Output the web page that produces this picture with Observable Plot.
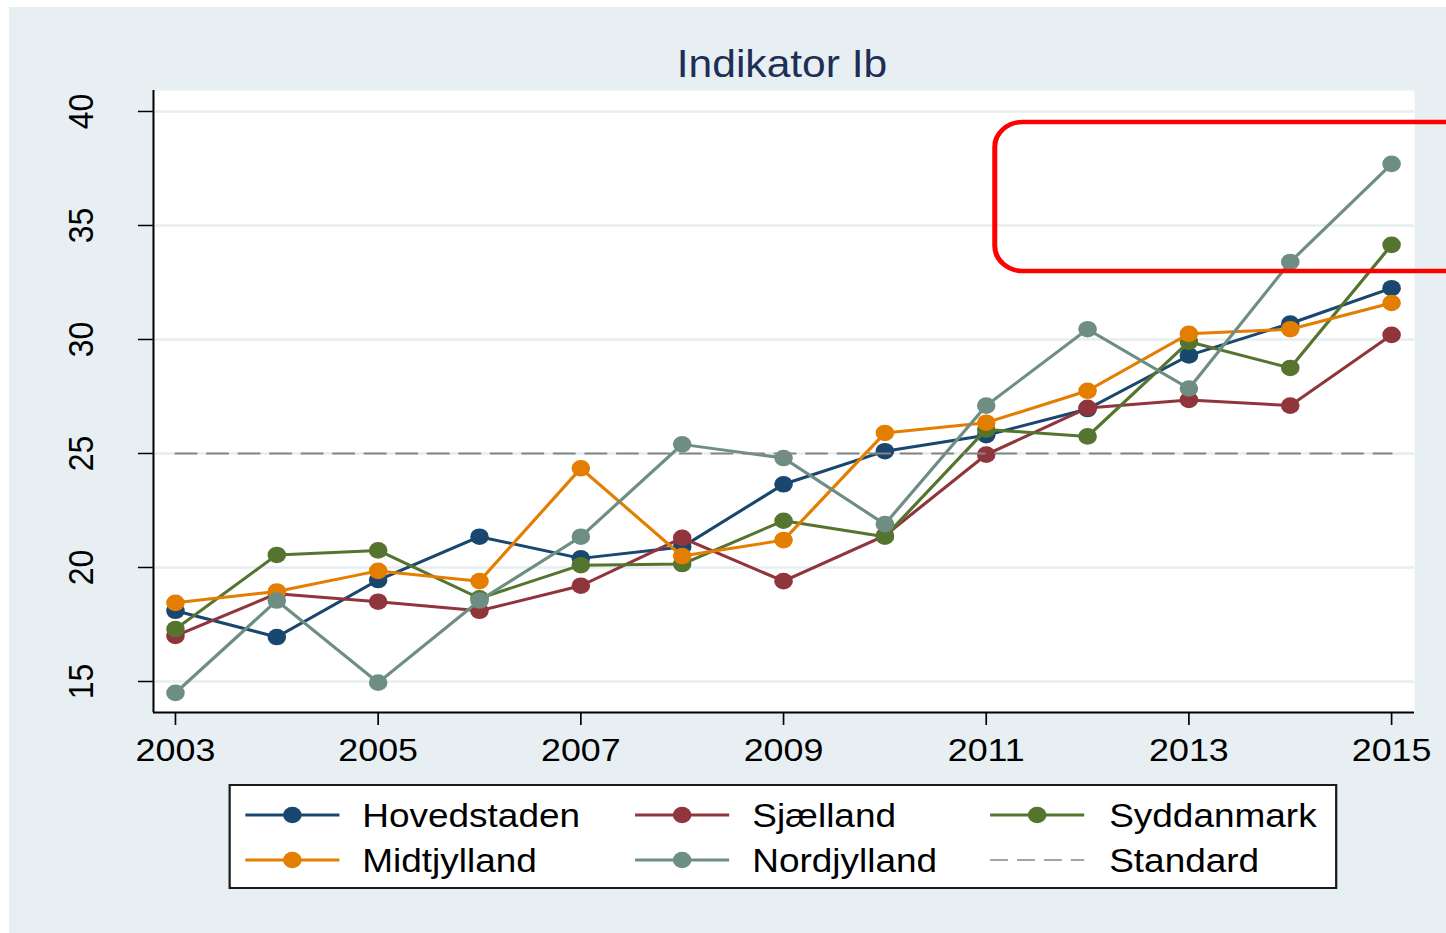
<!DOCTYPE html>
<html>
<head>
<meta charset="utf-8">
<script src="https://cdn.jsdelivr.net/npm/d3@7"></script>
<script src="https://cdn.jsdelivr.net/npm/@observablehq/plot@0.6"></script>
<style>
  html, body { margin: 0; padding: 0; background: #ffffff; overflow: hidden; }
  #stage {
    position: absolute; left: 9px; top: 7px; width: 1283px; height: 926px;
    background: #e8eff2; transform: scaleX(1.12); transform-origin: 0 0;
    font-family: "Liberation Sans", Arial, sans-serif; color: #000;
  }
  #chart { position: absolute; left: 0; top: 0; }
  #title {
    position: absolute; left: 690.2px; top: 37.8px; transform: translateX(-50%);
    font-size: 38px; line-height: 38px; color: #1e2f57; white-space: nowrap;
  }
  #legend {
    position: absolute; left: 195.5px; top: 777px; width: 990px; height: 105px;
    box-sizing: border-box; border: 2px solid #1a1a1a; background: #ffffff;
  }
  .lg-sw { position: absolute; width: 84px; height: 20px; overflow: visible; }
  .lg-tx { position: absolute; font-size: 33px; line-height: 33px; white-space: nowrap; color: #000; }
</style>
</head>
<body>
<div id="stage">
  <div id="chart"></div>
  <div id="title">Indikator Ib</div>
  <div id="legend"></div>
</div>
<script>
// ---------- data ----------
const years = [2003, 2004, 2005, 2006, 2007, 2008, 2009, 2010, 2011, 2012, 2013, 2014, 2015];
const hovedstaden = [18.1, 16.95, 19.45, 21.35, 20.4, 20.9, 23.65, 25.1, 25.8, 26.95, 29.3, 30.7, 32.25];
const sjaelland   = [17.0, 18.85, 18.5, 18.1, 19.2, 21.3, 19.4, 21.4, 24.95, 27.0, 27.35, 27.1, 30.2];
const syddanmark  = [17.3, 20.55, 20.75, 18.65, 20.1, 20.15, 22.05, 21.35, 26.05, 25.75, 29.9, 28.75, 34.15];
const midtjylland = [18.45, 18.95, 19.85, 19.4, 24.35, 20.5, 21.2, 25.9, 26.35, 27.75, 30.25, 30.45, 31.6];
const nordjylland = [14.5, 18.55, 14.95, 18.55, 21.35, 25.4, 24.8, 21.9, 27.1, 30.45, 27.85, 33.4, 37.7];
const standard    = [25, 25, 25, 25, 25, 25, 25, 25, 25, 25, 25, 25, 25];

const seriesNames = ["Hovedstaden", "Sjælland", "Syddanmark", "Midtjylland", "Nordjylland"];
const seriesValues = [hovedstaden, sjaelland, syddanmark, midtjylland, nordjylland];
const seriesColors = ["#1a476f", "#90353b", "#55752f", "#e37e00", "#6e8e84"];
const standardName = "Standard";

const xTicks = [2003, 2005, 2007, 2009, 2011, 2013, 2015];
const yTicks = [15, 20, 25, 30, 35, 40];
const xDomain = [2002.783, 2015.227];
const yDomain = [13.64, 40.92];
// highlighted region (annotation box)
const highlight = [{x1: 2011.09, x2: 2016.2, y1: 32.98, y2: 39.52}];

// ---------- build ----------
const gridColor = "#e6eef1";
const seriesRows = seriesNames.map((name, i) =>
  years.map((yr, j) => ({series: name, year: yr, value: seriesValues[i][j]})));
const standardRows = years.map((yr, j) => ({year: yr, value: standard[j]}));

const marks = [
  Plot.frame({fill: "white", stroke: "none"}),
  Plot.gridY(yTicks, {stroke: gridColor, strokeOpacity: 1, strokeWidth: 2.5}),
  Plot.ruleX([xDomain[0]], {stroke: "#000", strokeWidth: 1.8}),
  Plot.ruleY([yDomain[0]], {stroke: "#000", strokeWidth: 1.8}),
  Plot.axisY(yTicks, {tickSize: 13.4, tickPadding: 41, tickRotate: -90, fontSize: 32,
    stroke: "#000", strokeWidth: 1.5, label: null, tickFormat: d => String(d)}),
  Plot.axisX(xTicks, {tickSize: 13, tickPadding: 13, fontSize: 32,
    stroke: "#000", strokeWidth: 1.5, label: null, tickFormat: d => String(d)})
];
seriesRows.forEach((rows, i) => {
  marks.push(Plot.line(rows, {x: "year", y: "value", stroke: seriesColors[i], strokeWidth: 3}));
  marks.push(Plot.dot(rows, {x: "year", y: "value", fill: seriesColors[i], stroke: "none", r: 8.3}));
});
marks.push(Plot.line(standardRows, {x: "year", y: "value", stroke: "#858585", strokeWidth: 2,
  strokeDasharray: "18.75,9.4"}));
marks.push(Plot.rect(highlight, {x1: "x1", x2: "x2", y1: "y1", y2: "y2", fill: "none",
  stroke: "#ff0000", strokeWidth: 4.5, rx: 25, clip: false}));

const chart = Plot.plot({
  width: 1283, height: 926,
  marginLeft: 128.5, marginRight: 28.5, marginTop: 83, marginBottom: 221,
  x: {domain: xDomain},
  y: {domain: yDomain},
  style: {background: "transparent", overflow: "visible",
    fontFamily: "'Liberation Sans', Arial, sans-serif", fontSize: "32px", color: "#000"},
  marks
});
document.getElementById("chart").appendChild(chart);

// ---------- legend ----------
const legend = document.getElementById("legend");
const colLine = [13.4, 361.6, 678.6];
const colText = [117.9, 466.1, 784.8];
const rowY = [29, 74];
const items = seriesNames.map((n, i) => ({name: n, color: seriesColors[i], dashed: false}));
items.push({name: standardName, color: "#858585", dashed: true});
const ns = "http://www.w3.org/2000/svg";
items.forEach((it, k) => {
  const r = Math.floor(k / 3), c = k % 3;
  const sw = document.createElementNS(ns, "svg");
  sw.setAttribute("class", "lg-sw");
  sw.setAttribute("width", 84); sw.setAttribute("height", 20);
  sw.style.left = colLine[c] + "px";
  sw.style.top = (rowY[r] - 10) + "px";
  const ln = document.createElementNS(ns, "line");
  ln.setAttribute("x1", 0); ln.setAttribute("x2", 84);
  ln.setAttribute("y1", 10); ln.setAttribute("y2", 10);
  ln.setAttribute("stroke", it.color);
  ln.setAttribute("stroke-width", it.dashed ? 1.5 : 3);
  if (it.dashed) ln.setAttribute("stroke-dasharray", "16,8");
  sw.appendChild(ln);
  if (!it.dashed) {
    const ci = document.createElementNS(ns, "circle");
    ci.setAttribute("cx", 42); ci.setAttribute("cy", 10); ci.setAttribute("r", 8.3);
    ci.setAttribute("fill", it.color);
    sw.appendChild(ci);
  }
  legend.appendChild(sw);
  const tx = document.createElement("div");
  tx.className = "lg-tx";
  tx.textContent = it.name;
  tx.style.left = colText[c] + "px";
  tx.style.top = (rowY[r] - 16) + "px";
  legend.appendChild(tx);
});
</script>
</body>
</html>
